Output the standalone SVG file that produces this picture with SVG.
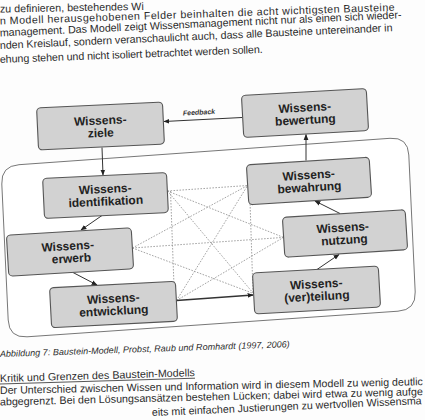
<svg xmlns="http://www.w3.org/2000/svg" width="425" height="420" viewBox="0 0 425 420">
<defs>
<style>
.page{font-family:"Liberation Sans",Arial,sans-serif;font-size:10.7px;fill:#2b2b2b}
.cap{font-family:"Liberation Sans",Arial,sans-serif;font-size:9px;font-style:italic;fill:#2b2b2b}
.box{fill:#d2d2d2;stroke:#555;stroke-width:1.1}
.lbl{font-family:"Liberation Sans",Arial,sans-serif;font-size:12px;font-weight:bold;fill:#222;text-anchor:middle}
.arr{stroke:#333;stroke-width:1;fill:none;marker-end:url(#ah)}
.dot{stroke:#9a9a9a;stroke-width:0.9;stroke-dasharray:1.6 1.4;fill:none}
.fb{font-family:"Liberation Sans",Arial,sans-serif;font-size:7px;font-style:italic;font-weight:bold;fill:#333}
</style>
<marker id="ah" viewBox="0 0 10 10" refX="9" refY="5" markerWidth="6" markerHeight="6" orient="auto" markerUnits="userSpaceOnUse"><path d="M0,1 L10,5 L0,9 z" fill="#222"/></marker>
</defs>
<rect x="0" y="0" width="425" height="420" fill="#fdfdfd"/>

<g id="page-text">
<text class="page" x="0" y="12.5" transform="rotate(-1 0 12.5)">zu definieren, bestehendes Wi</text>
<text class="page" x="0" y="24.5" transform="rotate(-2 0 24.5)" textLength="395" lengthAdjust="spacing">n Modell herausgehobenen Felder beinhalten die acht wichtigsten Bausteine</text>
<text class="page" x="0" y="36.5" transform="rotate(-2.6 0 36.5)" textLength="402" lengthAdjust="spacing">management. Das Modell zeigt Wissensmanagement nicht nur als einen sich wieder-</text>
<text class="page" x="0" y="49" transform="rotate(-2.6 0 49)" textLength="393" lengthAdjust="spacing">nden Kreislauf, sondern veranschaulicht auch, dass alle Bausteine untereinander in</text>
<text class="page" x="0" y="63" transform="rotate(-2.2 0 63)" textLength="263" lengthAdjust="spacing">ehung stehen und nicht isoliert betrachtet werden sollen.</text>
<text class="cap" x="0" y="357" transform="rotate(-1.95 0 357)" textLength="290" lengthAdjust="spacing">Abbildung 7: Baustein-Modell, Probst, Raub und Romhardt (1997, 2006)</text>
<text class="page" x="0" y="382" transform="rotate(-1.7 0 382)" textLength="195" lengthAdjust="spacing">Kritik und Grenzen des Baustein-Modells</text>
<line x1="0" y1="384" x2="195" y2="378.2" stroke="#2b2b2b" stroke-width="0.8"/>
<text class="page" x="0" y="394" transform="rotate(-1.2 0 394)" textLength="423" lengthAdjust="spacingAndGlyphs">Der Unterschied zwischen Wissen und Information wird in diesem Modell zu wenig deutlic</text>
<text class="page" x="0" y="405.5" transform="rotate(-1.4 0 405.5)" textLength="423" lengthAdjust="spacingAndGlyphs">abgegrenzt. Bei den Lösungsansätzen bestehen Lücken; dabei wird etwa zu wenig aufge</text>
<text class="page" x="152" y="416" transform="rotate(-2.5 152 416)" textLength="270" lengthAdjust="spacingAndGlyphs">eits mit einfachen Justierungen zu wertvollen Wissensma</text>
</g>

<g id="container">
<path d="M19,164.7 L390,138.3 Q408,137 408.8,155 L415.2,292 Q416,310 398,311.2 L27,336.8 Q9,338 8.2,320 L1.8,184 Q1,166 19,164.7 Z" fill="#fff" stroke="#777" stroke-width="1"/>
</g>

<g id="connectors">
<line class="dot" x1="167.5" y1="191" x2="247.6" y2="185.5"/>
<line class="dot" x1="170.5" y1="191" x2="174.5" y2="299.5"/>
<line class="dot" x1="249.5" y1="186" x2="253" y2="293"/>
<line class="dot" x1="167.5" y1="191" x2="283.5" y2="237.4"/>
<line class="dot" x1="167.5" y1="191" x2="253.5" y2="293.5"/>
<line class="dot" x1="132.4" y1="248" x2="247.6" y2="185.5"/>
<line class="dot" x1="132.4" y1="248" x2="283.5" y2="237.4"/>
<line class="dot" x1="132.4" y1="248" x2="253.5" y2="293.5"/>
<line class="dot" x1="176.5" y1="300.5" x2="247.6" y2="185.5"/>
<line class="dot" x1="176.5" y1="300.5" x2="283.5" y2="237.4"/>
<line class="arr" x1="102" y1="147.5" x2="103" y2="175"/>
<line class="arr" x1="306" y1="160.5" x2="306" y2="134.5"/>
<line class="arr" x1="242" y1="117.5" x2="164" y2="121.5"/>
<line class="arr" x1="102" y1="215.5" x2="81" y2="230"/>
<line class="arr" x1="73" y1="272.5" x2="97" y2="285"/>
<line class="arr" x1="176.5" y1="300.5" x2="253" y2="295" style="stroke-width:1.4"/>
<line class="arr" x1="317" y1="269.5" x2="339" y2="254.5"/>
<line class="arr" x1="340" y1="213.5" x2="315" y2="201"/>
<text class="fb" x="183" y="115.5" transform="rotate(-3 183 115.5)">Feedback</text>
</g>

<g id="ziele" transform="rotate(-2.7 100.5 126)">
<rect class="box" x="37.5" y="105" width="126" height="42" rx="4"/>
<text class="lbl" x="100.5" y="124.5">Wissens-</text>
<text class="lbl" x="100.5" y="137">ziele</text>
</g>
<g id="bewertung" transform="rotate(-3.2 305 113)">
<rect class="box" x="242.5" y="92" width="125" height="42" rx="4"/>
<text class="lbl" x="305" y="111.5">Wissens-</text>
<text class="lbl" x="305" y="124">bewertung</text>
</g>
<g id="identifikation" transform="rotate(-2.75 105.5 195.5)">
<rect class="box" x="43.5" y="175.5" width="124" height="40" rx="4"/>
<text class="lbl" x="105.5" y="193">Wissens-</text>
<text class="lbl" x="105.5" y="205.5">identifikation</text>
</g>
<g id="erwerb" transform="rotate(-3.4 70 252)">
<rect class="box" x="7.5" y="231.5" width="125" height="41" rx="4"/>
<text class="lbl" x="68" y="250">Wissens-</text>
<text class="lbl" x="71" y="262.5">erwerb</text>
</g>
<g id="entwicklung" transform="rotate(-3 113.5 304.5)">
<rect class="box" x="50.5" y="284.5" width="126" height="40" rx="4"/>
<text class="lbl" x="113.5" y="302.5">Wissens-</text>
<text class="lbl" x="113.5" y="315">entwicklung</text>
</g>
<g id="bewahrung" transform="rotate(-3.6 309 181)">
<rect class="box" x="247.5" y="161" width="123" height="40" rx="4"/>
<text class="lbl" x="309" y="179">Wissens-</text>
<text class="lbl" x="309" y="191.5">bewahrung</text>
</g>
<g id="nutzung" transform="rotate(-3.6 345 233.5)">
<rect class="box" x="283.5" y="213.5" width="123" height="40" rx="4"/>
<text class="lbl" x="343" y="231.5">Wissens-</text>
<text class="lbl" x="344" y="244">nutzung</text>
</g>
<g id="verteilung" transform="rotate(-3.2 316.5 290)">
<rect class="box" x="253.5" y="269.5" width="126" height="41" rx="4"/>
<text class="lbl" x="316.5" y="288">Wissens-</text>
<text class="lbl" x="316.5" y="300.5">(ver)teilung</text>
</g>
</svg>
